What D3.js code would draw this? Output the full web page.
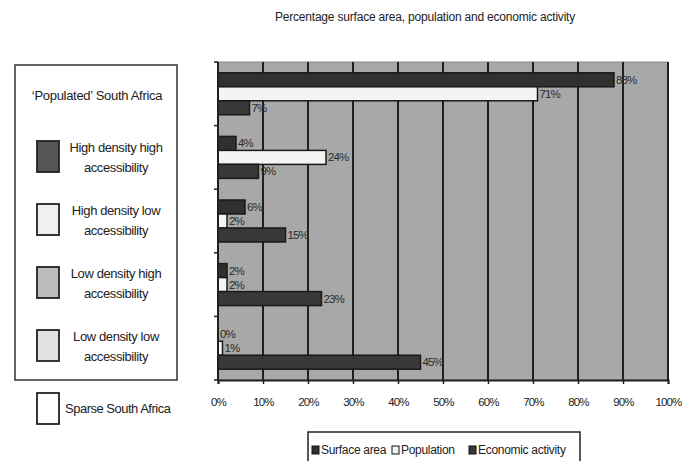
<!DOCTYPE html>
<html>
<head>
<meta charset="utf-8">
<script src="https://cdn.jsdelivr.net/npm/d3@7"></script>
<style>
  html, body { margin: 0; padding: 0; background: #fff; }
  svg { display: block; font-family: "Liberation Sans", Arial, sans-serif; }
</style>
</head>
<body>
<svg id="chart" width="684" height="461"></svg>
<script>
// Area categories (top to bottom) and their legend swatch colours
const categories = [
  "High density high accessibility",
  "High density low accessibility",
  "Low density high accessibility",
  "Low density low accessibility",
  "Sparse South Africa"
];
const categoryLines = [
  ["High density high", "accessibility"],
  ["High density low", "accessibility"],
  ["Low density high", "accessibility"],
  ["Low density low", "accessibility"]
];
const categoryFill = ["#555555", "#f0f0f0", "#bdbdbd", "#e2e2e2", "#ffffff"];

// Series (share of national total, %)
const seriesNames = ["Surface area", "Population", "Economic activity"];
const surfaceArea = [88, 4, 6, 2, 0];
const population = [71, 24, 2, 2, 1];
const economicActivity = [7, 9, 15, 23, 45];
const seriesFill = ["#303030", "#f4f4f4", "#383838"];

const xTicks = [0, 10, 20, 30, 40, 50, 60, 70, 80, 90, 100];

const seriesValues = [surfaceArea, population, economicActivity];
const rows = [];
categories.forEach((c, i) => {
  seriesNames.forEach((s, j) => rows.push({ cat: c, series: s, value: seriesValues[j][i], si: j }));
});

const svg = d3.select("#chart");

// Plot geometry
const plot = { left: 218, right: 668, top: 62, bottom: 380 };

const x = d3.scaleLinear().domain([0, 100]).range([plot.left, plot.right]);
const y = d3.scaleBand().domain(categories).range([plot.top, plot.bottom]).paddingInner(0.34).paddingOuter(0.17);
const ySeries = d3.scaleBand().domain(seriesNames).range([0, y.bandwidth()]);

// Title
svg.append("text")
  .attr("x", 425).attr("y", 21)
  .attr("text-anchor", "middle")
  .attr("font-size", 12)
  .attr("letter-spacing", -0.2)
  .attr("fill", "#222")
  .text("Percentage surface area, population and economic activity");

// Plot background
svg.append("rect")
  .attr("x", plot.left).attr("y", plot.top)
  .attr("width", plot.right - plot.left).attr("height", plot.bottom - plot.top)
  .attr("fill", "#a8a8a8")
  .attr("stroke", "#8a8a8a").attr("stroke-width", 1);

// Vertical gridlines
svg.append("g").selectAll("line")
  .data(xTicks.slice(1))
  .join("line")
  .attr("x1", d => x(d)).attr("x2", d => x(d))
  .attr("y1", plot.top).attr("y2", plot.bottom)
  .attr("stroke", "#202020").attr("stroke-width", 2);

// Bars
svg.append("g").selectAll("rect")
  .data(rows.filter(d => d.value > 0))
  .join("rect")
  .attr("x", x(0))
  .attr("y", d => y(d.cat) + ySeries(d.series))
  .attr("width", d => x(d.value) - x(0))
  .attr("height", ySeries.bandwidth())
  .attr("fill", d => seriesFill[d.si])
  .attr("stroke", "#1a1a1a").attr("stroke-width", 1.5);

// Value labels
svg.append("g").selectAll("text")
  .data(rows)
  .join("text")
  .attr("x", d => x(d.value) + 2)
  .attr("y", d => y(d.cat) + ySeries(d.series) + ySeries.bandwidth() / 2 + 4)
  .attr("font-size", 11.5)
  .attr("letter-spacing", -0.9)
  .attr("fill", "#2a2a2a")
  .text(d => d.value + "%");

// Category axis (left) with boundary ticks
const yAxis = svg.append("g");
yAxis.append("line")
  .attr("x1", plot.left).attr("x2", plot.left)
  .attr("y1", plot.top).attr("y2", plot.bottom)
  .attr("stroke", "#202020").attr("stroke-width", 2);
yAxis.selectAll("line.tick")
  .data(d3.range(categories.length + 1))
  .join("line")
  .attr("class", "tick")
  .attr("x1", plot.left - 4).attr("x2", plot.left)
  .attr("y1", i => plot.top + i * (plot.bottom - plot.top) / categories.length)
  .attr("y2", i => plot.top + i * (plot.bottom - plot.top) / categories.length)
  .attr("stroke", "#202020").attr("stroke-width", 1.5);

// Value axis (bottom)
const xAxis = svg.append("g")
  .attr("transform", `translate(0,${plot.bottom})`)
  .call(d3.axisBottom(x).tickValues(xTicks).tickSize(4).tickPadding(14).tickFormat(d => d + "%"));
xAxis.select(".domain").attr("stroke", "#202020").attr("stroke-width", 2);
xAxis.selectAll(".tick line").attr("stroke", "#202020").attr("stroke-width", 1.5);
xAxis.selectAll(".tick text")
  .attr("font-size", 11.5)
  .attr("letter-spacing", -0.9)
  .attr("font-family", "'Liberation Sans', Arial, sans-serif")
  .attr("fill", "#222");

// Series legend (bottom)
const leg = svg.append("g");
leg.append("rect")
  .attr("x", 308).attr("y", 432).attr("width", 272).attr("height", 40)
  .attr("fill", "#fff").attr("stroke", "#222").attr("stroke-width", 1.5);
const legX = [312, 392, 469];
seriesNames.forEach((s, i) => {
  leg.append("rect")
    .attr("x", legX[i]).attr("y", 446).attr("width", 7).attr("height", 8)
    .attr("fill", seriesFill[i]).attr("stroke", "#111").attr("stroke-width", 1);
  leg.append("text")
    .attr("x", legX[i] + 9).attr("y", 454)
    .attr("font-size", 12).attr("fill", "#222")
    .attr("letter-spacing", -0.3)
    .text(s);
});

// Area-type legend (left)
const catLeg = svg.append("g");
catLeg.append("rect")
  .attr("x", 15).attr("y", 65).attr("width", 162).attr("height", 315)
  .attr("fill", "#fff").attr("stroke", "#333").attr("stroke-width", 1.5);
catLeg.append("text")
  .attr("x", 97).attr("y", 100)
  .attr("text-anchor", "middle")
  .attr("font-size", 13).attr("fill", "#222")
  .attr("letter-spacing", -0.3)
  .text("\u2018Populated\u2019 South Africa");

const swatchTop = [141, 204, 267, 330];
categoryLines.forEach((lines, i) => {
  catLeg.append("rect")
    .attr("x", 37).attr("y", swatchTop[i]).attr("width", 22).attr("height", 31)
    .attr("fill", categoryFill[i]).attr("stroke", "#222").attr("stroke-width", 1.8);
  lines.forEach((t, k) => {
    catLeg.append("text")
      .attr("x", 116).attr("y", swatchTop[i] + 11 + k * 20)
      .attr("text-anchor", "middle")
      .attr("font-size", 13).attr("fill", "#222")
      .attr("letter-spacing", -0.4)
      .text(t);
  });
});
catLeg.append("rect")
  .attr("x", 37).attr("y", 393).attr("width", 22).attr("height", 31)
  .attr("fill", categoryFill[4]).attr("stroke", "#222").attr("stroke-width", 1.8);
catLeg.append("text")
  .attr("x", 65).attr("y", 413)
  .attr("font-size", 13).attr("fill", "#222")
  .attr("letter-spacing", -0.5)
  .text(categories[4]);
</script>
</body>
</html>
